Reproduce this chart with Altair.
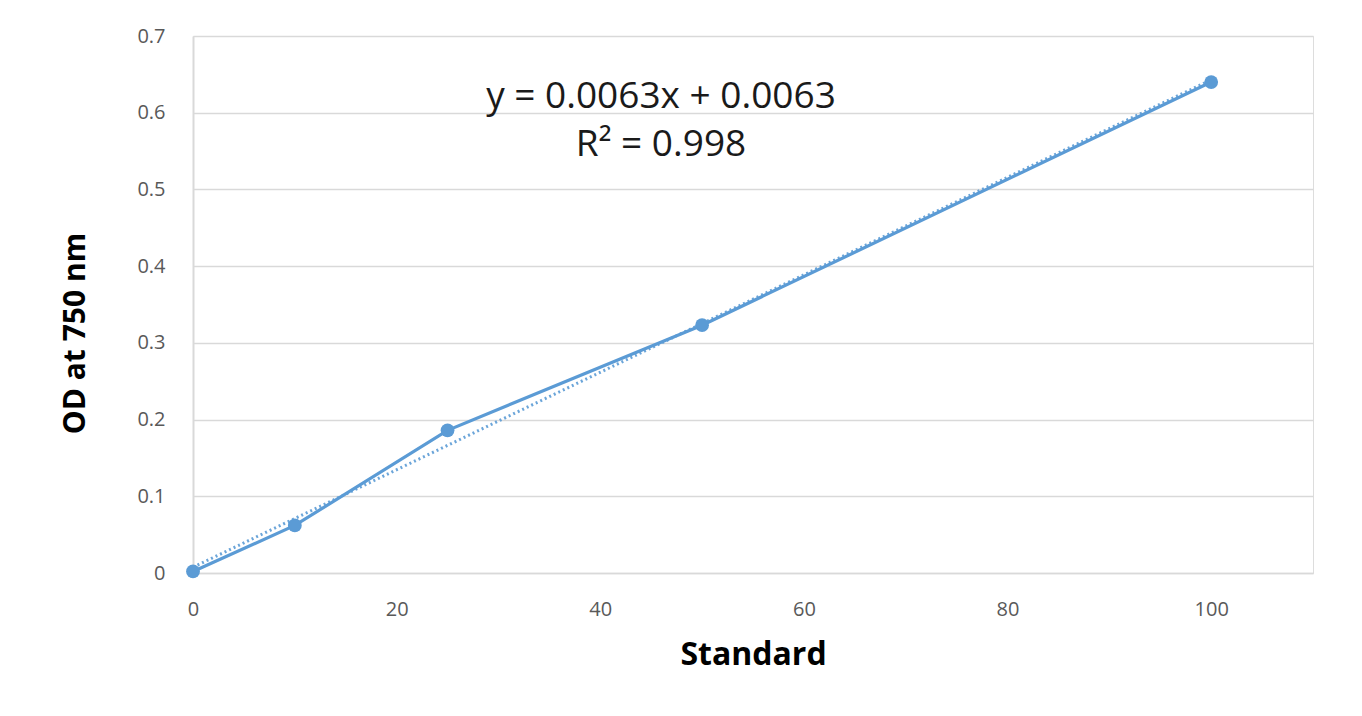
import altair as alt
import pandas as pd

standard = [0, 10, 25, 50, 100]
od750 = [0.002, 0.062, 0.186, 0.323, 0.640]
equation_line = ["y = 0.0063x + 0.0063"]
r2_line = ["R² = 0.998"]

df = pd.DataFrame({"Standard": standard, "OD": od750})

BLUE = "#5B9BD5"
FONT = "Open Sans"

x_scale = alt.Scale(domain=[0, 110], nice=False, zero=False)
y_scale = alt.Scale(domain=[0, 0.7], nice=False)

x_enc = alt.X(
    "Standard:Q",
    scale=x_scale,
    title="Standard",
    axis=alt.Axis(
        values=[0, 20, 40, 60, 80, 100],
        grid=False,
        ticks=False,
        domain=True,
        domainColor="#D9D9D9",
        domainWidth=1.5,
        labelFlush=False,
        labelFont=FONT,
        labelFontSize=20,
        labelColor="#595959",
        labelPadding=26,
        titleFont=FONT,
        titleFontSize=32,
        titleFontWeight="bold",
        titleColor="#000000",
        titlePadding=20,
    ),
)
y_enc = alt.Y(
    "OD:Q",
    scale=y_scale,
    title="OD at 750 nm",
    axis=alt.Axis(
        values=[0, 0.1, 0.2, 0.3, 0.4, 0.5, 0.6, 0.7],
        format="~g",
        grid=True,
        gridColor="#D9D9D9",
        gridWidth=1.5,
        ticks=False,
        domain=True,
        domainColor="#D9D9D9",
        domainWidth=2,
        labelFlush=False,
        labelFont=FONT,
        labelFontSize=20,
        labelColor="#595959",
        labelPadding=28,
        titleFont=FONT,
        titleFontSize=30,
        titleFontWeight="bold",
        titleColor="#000000",
        titlePadding=46,
        titleY=297,
    ),
)

base = alt.Chart(df)

line = base.mark_line(color=BLUE, strokeWidth=3.2).encode(x=x_enc, y=y_enc)
points = base.mark_point(filled=True, color=BLUE, size=190, opacity=1).encode(x=x_enc, y=y_enc)

trend = (
    base.transform_regression("Standard", "OD", method="linear", extent=[0, 100])
    .mark_line(color=BLUE, strokeWidth=3, strokeDash=[2, 3], opacity=0.9)
    .encode(x=x_enc, y=y_enc)
)

eq1 = alt.Chart(pd.DataFrame({"t": equation_line})).mark_text(
    font=FONT, fontSize=37, color="#1a1a1a", align="center", baseline="middle"
).encode(text="t:N", x=alt.value(468), y=alt.value(61))

eq2 = alt.Chart(pd.DataFrame({"t": r2_line})).mark_text(
    font=FONT, fontSize=37, color="#1a1a1a", align="center", baseline="middle"
).encode(text="t:N", x=alt.value(468), y=alt.value(109))

chart = (
    alt.layer(trend, line, points, eq1, eq2)
    .properties(
        width=1120,
        height=537,
        autosize=alt.AutoSizeParams(type="none"),
        padding={"left": 185, "top": 28, "right": 41, "bottom": 135},
    )
    .configure_view(stroke=None)
    .configure(background="white")
)

chart.save("out.html", embed_options={"renderer": "svg", "actions": False})
